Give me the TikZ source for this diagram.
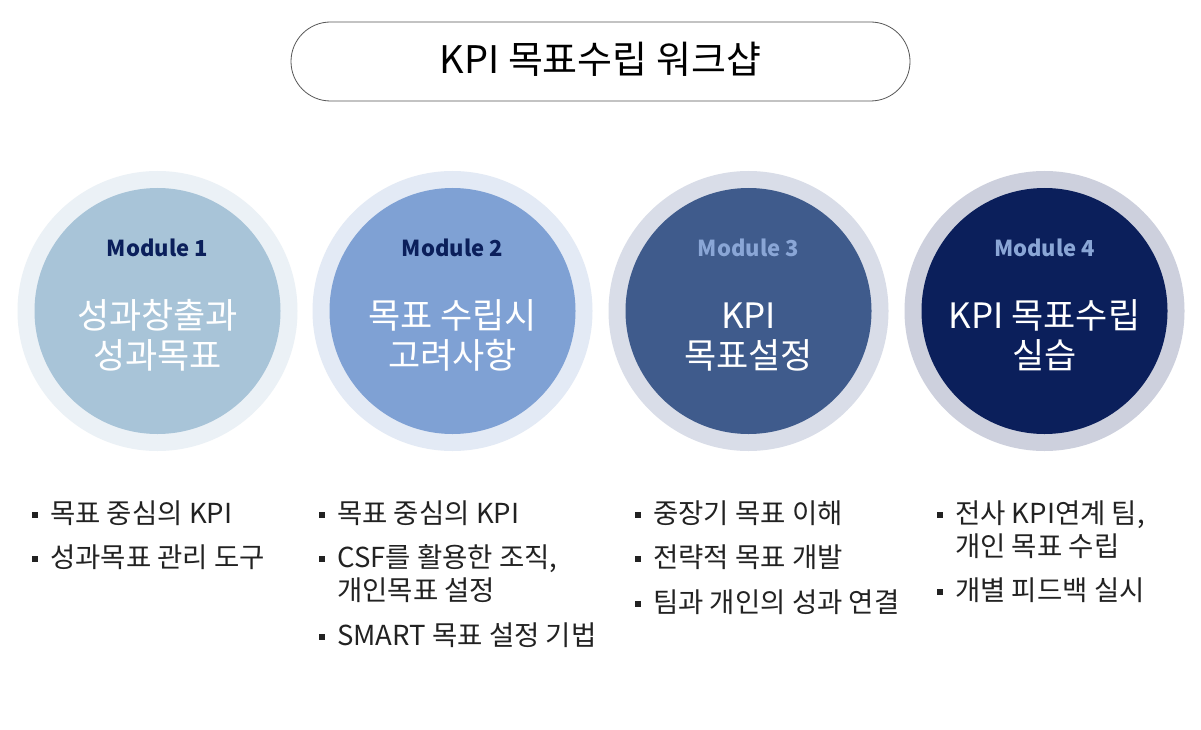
\documentclass[tikz,border=0pt]{standalone}
\usepackage{fontspec}
\setmainfont{Noto Sans CJK KR}
\definecolor{ringA}{HTML}{EBF1F6}
\definecolor{fillA}{HTML}{A8C4D8}
\definecolor{ringB}{HTML}{E3EAF5}
\definecolor{fillB}{HTML}{7FA1D4}
\definecolor{ringC}{HTML}{D9DDE8}
\definecolor{fillC}{HTML}{3F5B8C}
\definecolor{ringD}{HTML}{CDD0DD}
\definecolor{fillD}{HTML}{0B1F5B}
\definecolor{navy}{HTML}{0B1F5B}
\definecolor{lightmod}{HTML}{8AA6D6}
\definecolor{txt}{HTML}{222222}
\definecolor{frame}{HTML}{555555}
\begin{document}
\begin{tikzpicture}[x=1pt,y=-1pt,
  ring/.style={circle, minimum size=280pt, inner sep=0pt},
  disc/.style={circle, minimum size=246pt, inner sep=0pt},
  modlabel/.style={anchor=base, font=\fontsize{22}{26}\selectfont\bfseries, inner sep=0pt},
  maintext/.style={anchor=base, font=\fontsize{35}{40}\selectfont, text=white, inner sep=0pt},
  item/.style={anchor=base west, font=\fontsize{27.5}{32}\selectfont, text=txt, inner sep=0pt},
  sq/.style={fill=txt, minimum size=5.5pt, inner sep=0pt}
]
\useasboundingbox[fill=white] (0,0) rectangle (1201,730);

% title
\node[draw=frame, line width=0.8pt, rounded corners=39.5pt, minimum width=619pt, minimum height=79pt, inner sep=0pt] (title) at (600.5,61.5) {};
\node[anchor=base, font=\fontsize{38}{42}\selectfont, inner sep=0pt] (titletext) at (600.5,74) {KPI 목표수립 워크샵};

% circles
\node[ring, fill=ringA] (o1) at (157.5,311) {};
\node[disc, fill=fillA] (c1) at (157.5,311) {};
\node[ring, fill=ringB] (o2) at (452.5,311) {};
\node[disc, fill=fillB] (c2) at (452.5,311) {};
\node[ring, fill=ringC] (o3) at (748.5,311) {};
\node[disc, fill=fillC] (c3) at (748.5,311) {};
\node[ring, fill=ringD] (o4) at (1044.5,311) {};
\node[disc, fill=fillD] (c4) at (1044.5,311) {};

\node[modlabel, text=navy] (m1) at (157.5,256) {Module 1};
\node[modlabel, text=navy] (m2) at (452.5,256) {Module 2};
\node[modlabel, text=lightmod] (m3) at (748.5,256) {Module 3};
\node[modlabel, text=lightmod] (m4) at (1044.5,256) {Module 4};

\node[maintext] (t1a) at (157.5,328) {성과창출과};
\node[maintext] (t1b) at (157.5,368) {성과목표};
\node[maintext] (t2a) at (452.5,328) {목표 수립시};
\node[maintext] (t2b) at (452.5,368) {고려사항};
\node[maintext] (t3a) at (748.5,328) {KPI};
\node[maintext] (t3b) at (748.5,368) {목표설정};
\node[maintext] (t4a) at (1044.5,328) {KPI 목표수립};
\node[maintext] (t4b) at (1044.5,368) {실습};

% column 1
\node[sq] (b11) at (35,515) {};
\node[item] (i11) at (50,523) {목표 중심의 KPI};
\node[sq] (b12) at (35,559) {};
\node[item] (i12) at (50,567) {성과목표 관리 도구};

% column 2
\node[sq] (b21) at (322,515) {};
\node[item] (i21) at (337,523) {목표 중심의 KPI};
\node[sq] (b22) at (322,559) {};
\node[item] (i22) at (337,567) {CSF를 활용한 조직,};
\node[item] (i22b) at (337,600) {개인목표 설정};
\node[sq] (b23) at (322,637) {};
\node[item] (i23) at (337,645) {SMART 목표 설정 기법};

% column 3
\node[sq] (b31) at (638,515) {};
\node[item] (i31) at (653,523) {중장기 목표 이해};
\node[sq] (b32) at (638,559) {};
\node[item] (i32) at (653,567) {전략적 목표 개발};
\node[sq] (b33) at (638,604) {};
\node[item] (i33) at (653,612) {팀과 개인의 성과 연결};

% column 4
\node[sq] (b41) at (940,515) {};
\node[item] (i41) at (955,523) {전사 KPI연계 팀,};
\node[item] (i41b) at (955,556) {개인 목표 수립};
\node[sq] (b42) at (940,592) {};
\node[item] (i42) at (955,600) {개별 피드백 실시};
\end{tikzpicture}
\end{document}
